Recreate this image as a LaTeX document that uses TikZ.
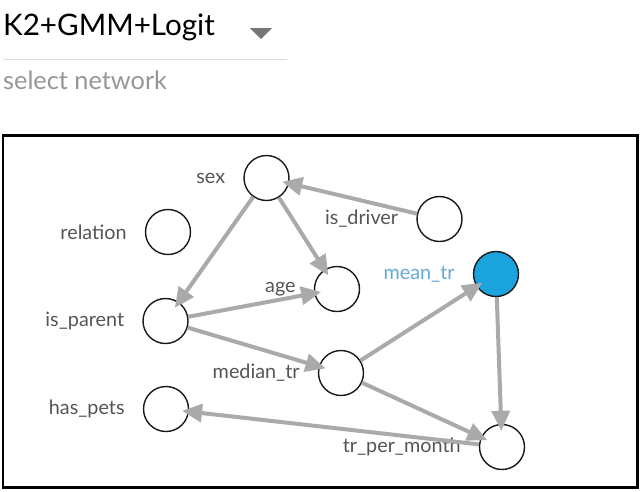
\documentclass[tikz,border=0pt]{standalone}
\usepackage{fontspec}
\setmainfont{Lato}
\usetikzlibrary{arrows.meta}
\definecolor{edgegray}{RGB}{170,170,170}
\definecolor{labelgray}{RGB}{85,85,85}
\definecolor{hintgray}{RGB}{150,150,150}
\definecolor{rulegray}{RGB}{221,221,221}
\definecolor{caretgray}{RGB}{119,119,119}
\definecolor{meanblue}{RGB}{26,163,221}
\definecolor{meantext}{RGB}{100,170,215}
\begin{document}
\begin{tikzpicture}[x=1pt, y=-1pt,
    var/.style={circle, draw=black!90, line width=1.4pt, fill=white, minimum size=45pt, inner sep=0pt},
    varlabel/.style={label distance=18pt, inner sep=0pt, text=labelgray, font=\fontsize{19.8}{22}\selectfont},
    arrow/.style={-{Triangle[length=20pt, width=18pt]}, line width=4pt, draw=edgegray, shorten >=-7pt}
]
    \useasboundingbox (0,0) rectangle (643,491);

    % network selector
    \node[anchor=base west, inner sep=0pt, font=\fontsize{29.6}{32}\selectfont] (netname) at (3,35) {K2+GMM+Logit};
    \fill[caretgray] (250,28) -- (272,28) -- (261,39) -- cycle;
    \draw[rulegray, line width=1pt] (3,59) -- (287,59);
    \node[anchor=base west, inner sep=0pt, text=hintgray, font=\fontsize{25.3}{27}\selectfont] (nethint) at (3,89) {select network};

    \draw[line width=2.4pt] (3.2,135.5) rectangle (637.5,487.5);

    \node[var, label={[varlabel]left:sex}] (sex) at (266.5,178) {};
    \node[var, label={[varlabel]left:relation}] (relation) at (168,232) {};
    \node[var, label={[varlabel]left:is\_driver}] (isdriver) at (439.5,219) {};
    \node[var, label={[varlabel]left:age}] (age) at (337,289) {};
    \node[var, fill=meanblue, label={[varlabel, text=meantext]left:mean\_tr}] (meantr) at (496,274) {};
    \node[var, label={[varlabel]left:is\_parent}] (isparent) at (165.5,321) {};
    \node[var, label={[varlabel]left:median\_tr}] (mediantr) at (341,373) {};
    \node[var, label={[varlabel]left:has\_pets}] (haspets) at (166,409) {};
    \node[var, label={[varlabel]left:tr\_per\_month}] (trmonth) at (502,447) {};

    \draw[arrow] (isdriver) -- (sex);
    \draw[arrow] (sex) -- (isparent);
    \draw[arrow] (sex) -- (age);
    \draw[arrow] (isparent) -- (age);
    \draw[arrow] (isparent) -- (mediantr);
    \draw[arrow] (mediantr) -- (meantr);
    \draw[arrow] (mediantr) -- (trmonth);
    \draw[arrow] (meantr) -- (trmonth);
    \draw[arrow] (trmonth) -- (haspets);
\end{tikzpicture}
\end{document}
